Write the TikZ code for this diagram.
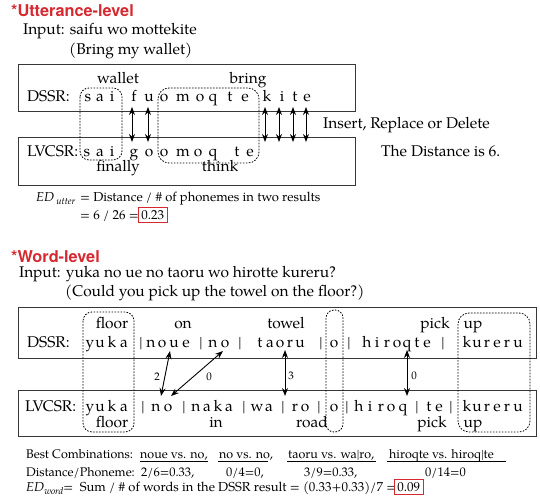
\documentclass[tikz,border=0pt]{standalone}
\usepackage{fontspec}
\setmainfont{TeX Gyre Pagella}
\newfontfamily\headfont{TeX Gyre Heros}
\usetikzlibrary{arrows.meta}
\definecolor{hred}{RGB}{214,40,48}
\definecolor{boxgray}{RGB}{55,55,55}
\tikzset{
  fbox/.style={draw=boxgray, line width=0.9pt},
  dbox/.style={draw=black, line width=0.8pt, dash pattern=on 1.6pt off 1.4pt, rounded corners=9pt},
  darr/.style={{Stealth[length=8pt,width=6pt]}-{Stealth[length=8pt,width=6pt]}, line width=0.9pt},
  lt/.style={anchor=base, inner sep=0pt, font=\fontsize{15.5}{18}\selectfont},
  txt/.style={anchor=base west, inner sep=0pt, font=\fontsize{15.5}{18}\selectfont},
  stxt/.style={anchor=base west, inner sep=0pt, font=\fontsize{13}{15}\selectfont},
  sstxt/.style={anchor=base west, inner sep=0pt, font=\fontsize{12.5}{15}\selectfont},
  head/.style={anchor=base west, inner sep=0pt, font=\headfont\bfseries\fontsize{16.3}{19}\selectfont, text=hred},
  lab/.style={anchor=center, inner sep=0pt, font=\fontsize{11}{13}\selectfont},
  redbox/.style={draw=hred, line width=0.8pt, inner xsep=3pt, inner ysep=3pt, anchor=base west, font=\fontsize{13}{15}\selectfont},
  uline/.style={draw=black, line width=0.6pt}
}
\begin{document}
\begin{tikzpicture}[x=1pt,y=-1pt]
\useasboundingbox (0,0) rectangle (540,502);
% ===== Utterance level =====
\node[head] (h1) at (11,17) {*Utterance-level};
\node[txt] (in1) at (23,35) {Input: saifu wo mottekite};
\node[txt] (tr1) at (69,55) {(Bring my wallet)};
\draw[fbox] (18,64) rectangle (355,111);
\draw[fbox] (18,137) rectangle (355,185);
\draw[dbox] (80,88) rectangle (122,160);
\draw[dbox, rounded corners=11pt] (158,88) rectangle (259,163);
\node[txt] (ds1) at (27,102) {DSSR:};
\node[txt] (lv1) at (27,157) {LVCSR:};
\foreach \x/\c [count=\i] in {88/s,100/a,112/i,134/f,149/u,164/o,183/m,200/o,213/q,230/t,245/e,267/k,282/i,295/t,307/e}
  \node[lt] (ud\i) at (\x,102) {\c};
\foreach \x/\c [count=\i] in {87/s,100/a,112/i,134/g,149/o,164/o,183/m,198/o,213/q,237/t,250/e}
  \node[lt] (ul\i) at (\x,157) {\c};
\node[lt] (wal) at (118,84) {wallet};
\node[lt] (bri) at (248,84) {bring};
\node[lt] (fin) at (118,172) {finally};
\node[lt] (thi) at (220,172) {think};
\foreach \x [count=\i] in {132,148,265,279,293,306} {
  \coordinate (at\i) at (\x,107);
  \coordinate (ab\i) at (\x,142);
  \draw[darr] (at\i) -- (ab\i);
}
\node[txt] (ins) at (323,129) {Insert, Replace or Delete};
\node[txt] (dist) at (381,157) {The Distance is 6.};
\node[stxt] (ed1) at (36,202) {\textit{ED}\,\raisebox{-3pt}{\fontsize{9.5}{10}\selectfont\textit{utter}}};
\node[stxt] (ed1b) at (80,202) {= Distance / \# of phonemes in two results};
\node[stxt] (ed2) at (80,219.5) {= 6 / 26 =};
\node[redbox] (rb1) at (138,219.5) {0.23};
% ===== Word level =====
\node[head] (h2) at (11,262) {*Word-level};
\node[txt] (in2) at (19,277) {Input: yuka no ue no taoru wo hirotte kureru?};
\node[txt] (tr2) at (65,296) {(Could you pick up the towel on the floor?)};
\draw[fbox] (18,307) rectangle (536,358);
\draw[fbox] (18,390) rectangle (536,436);
\draw[dbox] (83,312) rectangle (134,432);
\draw[dbox, rounded corners=8pt] (326,310) rectangle (343,432);
\draw[dbox, rounded corners=11pt] (458,313) rectangle (530,432);
\node[txt] (ds2) at (27,347) {DSSR:};
\node[txt] (lv2) at (25,411) {LVCSR:};
\foreach \x/\c [count=\i] in {90/y,100/u,112/k,124/a,141/|,151/n,162/o,174/u,186/e,201/|,213/n,225/o,240/|,260/t,270/a,280/o,290/r,300/u,321/|,334/o,349/|,367/h,377/i,387/r,397/o,407/q,417/t,427/e,443/|,467/k,477/u,487/r,497/e,507/r,518/u}
  \node[lt] (wd\i) at (\x,347) {\c};
\foreach \x/\c [count=\i] in {90/y,100/u,112/k,124/a,143/|,156/n,168/o,184/|,196/n,207/a,218/k,229/a,244/|,257/w,269/a,283/|,295/r,305/o,319/|,334/o,347/|,359/h,370/i,381/r,391/o,403/q,417/|,429/t,439/e,451/|,467/k,477/u,487/r,497/e,507/r,518/u}
  \node[lt] (wl\i) at (\x,411) {\c};
\node[lt] (fl1) at (112,328) {floor};
\node[lt] (on1) at (183,328) {on};
\node[lt] (tow) at (286,328) {towel};
\node[lt] (pk1) at (435,328) {pick};
\node[lt] (up1) at (473,328) {up};
\node[lt] (fl2) at (112,427) {floor};
\node[lt] (in3) at (216,427) {in};
\node[lt] (road) at (312,427) {road};
\node[lt] (pk2) at (432,427) {pick};
\node[lt] (up2) at (473,427) {up};
\coordinate (a1t) at (170,351); \coordinate (a1b) at (161,396);
\coordinate (a2t) at (223,351); \coordinate (a2b) at (171,396);
\coordinate (a3t) at (285,350); \coordinate (a3b) at (285,396);
\coordinate (a4t) at (407,350); \coordinate (a4b) at (407,396);
\draw[darr] (a1t) -- (a1b);
\draw[darr] (a2t) -- (a2b);
\draw[darr] (a3t) -- (a3b);
\draw[darr] (a4t) -- (a4b);
\node[lab] (l2) at (157,377) {2};
\node[lab] (l0a) at (209,377) {0};
\node[lab] (l3) at (291,376) {3};
\node[lab] (l0b) at (414,376) {0};
% bottom text
\node[sstxt] (bc) at (26,458) {Best Combinations:};
\node[sstxt] (bc1) at (140,458) {noue vs. no,};
\node[sstxt] (bc2) at (219,458) {no vs. no,};
\node[sstxt] (bc3) at (288,458) {taoru vs. wa|ro,};
\node[sstxt] (bc4) at (389,458) {hiroqte vs. hiroq|te};
\draw[uline] (140,461.5) -- (208,461.5);
\draw[uline] (218,461.5) -- (268,461.5);
\draw[uline] (287,461.5) -- (376,461.5);
\draw[uline] (387,461.5) -- (506,461.5);
\node[sstxt] (dp) at (26,476) {Distance/Phoneme:};
\node[sstxt] (dp1) at (141,476) {2/6=0.33,};
\node[sstxt] (dp2) at (226,476) {0/4=0,};
\node[sstxt] (dp3) at (304,476) {3/9=0.33,};
\node[sstxt] (dp4) at (425,476) {0/14=0};
\node[stxt] (edw) at (26,491.5) {\textit{ED}\raisebox{-3pt}{\fontsize{9.5}{10}\selectfont\textit{word}}= \ Sum / \# of words in the DSSR result = (0.33+0.33)/7 =};
\node[redbox] (rb2) at (394,491.5) {0.09};
\end{tikzpicture}
\end{document}
